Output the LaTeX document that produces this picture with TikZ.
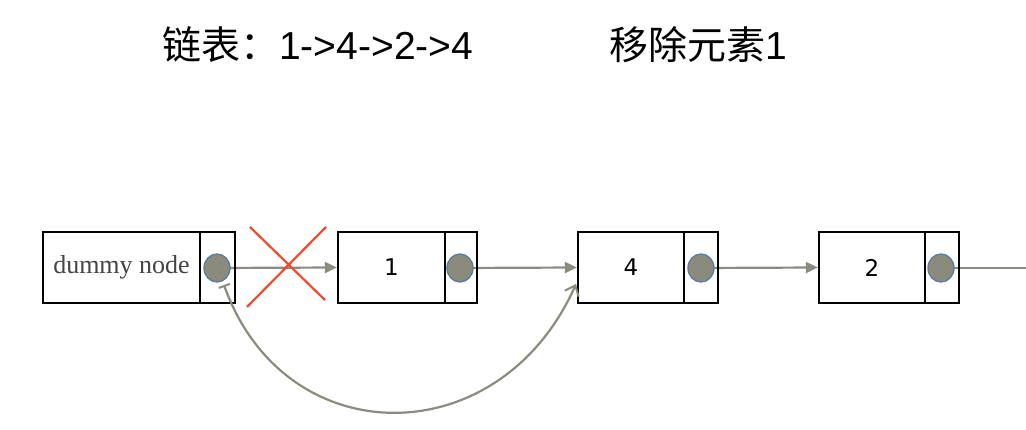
\documentclass[tikz,border=0pt]{standalone}
\usepackage{fontspec}
\setmainfont{Liberation Serif}
\newfontfamily\cjk{Noto Sans CJK SC}
\newfontfamily\latsans{Liberation Sans}
\newfontfamily\dvsans{DejaVu Sans}
\usetikzlibrary{arrows.meta,backgrounds,shapes.geometric}
\definecolor{arrowgray}{HTML}{8A8C80}
\definecolor{dotfill}{HTML}{8A8B7C}
\definecolor{dotedge}{HTML}{5E7E9E}
\definecolor{crossred}{HTML}{F04A2E}
\definecolor{labelgray}{HTML}{444444}
\tikzset{
  databox/.style={draw=black,line width=2.2pt,minimum height=71pt,inner sep=0pt,fill=white},
  ptrbox/.style={draw=black,line width=2.2pt,minimum height=71pt,inner sep=0pt},
  dot/.style={ellipse,draw=dotedge,line width=1.4pt,fill=dotfill,minimum width=26pt,minimum height=28pt,inner sep=0pt},
  link/.style={draw=arrowgray,line width=2.2pt,-{Triangle[length=12pt,width=11pt]}},
  jump/.style={draw=arrowgray,line width=2.2pt,{Bar[width=12pt,line width=2pt]}-{Straight Barb[length=9pt,width=15pt,line width=2pt]}},
  cross/.style={draw=crossred,line width=2.2pt},
  numtxt/.style={font=\dvsans\fontsize{23}{27}\selectfont},
  title/.style={anchor=west,inner sep=0pt,font=\fontsize{39}{46}\selectfont}
}
\begin{document}
\begin{tikzpicture}[x=1pt,y=-1pt]
\useasboundingbox (0,0) rectangle (1026,430);
% titles
\node[title] (t1) at (162,45) {\cjk 链表：\latsans 1->4->2->4};
\node[title] (t2) at (609,45) {\cjk 移除元素\latsans 1};
% dummy node
\node[databox,minimum width=157pt,font=\fontsize{26}{31}\selectfont\color{labelgray}] (d0) at (121.5,267.5) {dummy node};
\node[ptrbox,minimum width=35pt] (p0) at (217.5,267.5) {};
% node 1
\node[databox,minimum width=107pt,numtxt] (d1) at (391.5,267.5) {1};
\node[ptrbox,minimum width=32pt] (p1) at (461,267.5) {};
% node 4
\node[databox,minimum width=106pt,numtxt] (d2) at (631,267.5) {4};
\node[ptrbox,minimum width=34pt] (p2) at (701,267.5) {};
% node 2
\node[databox,minimum width=106pt,numtxt] (d3) at (872,267.5) {2};
\node[ptrbox,minimum width=34pt] (p3) at (942,267.5) {};
% dots
\node[dot] (c0) at (217,268) {};
\node[dot] (c1) at (460,268) {};
\node[dot] (c2) at (701,268) {};
\node[dot] (c3) at (941,268) {};
\coordinate (tail) at (1030,268);
\coordinate (js) at (224,285);
\coordinate (je) at (576,284);
\begin{scope}[on background layer]
\draw[link] (c0.center) -- (d1.west);
\draw[link] (c1.center) -- (d2.west);
\draw[link] (c2.center) -- (d3.west);
\draw[draw=arrowgray,line width=2.2pt] (c3.center) -- (tail);
\end{scope}
\draw[jump] (js) .. controls (285,455) and (500,455) .. (je);
% red cross
\coordinate (x1) at (250,227);
\coordinate (x2) at (325,300);
\coordinate (x3) at (326,227);
\coordinate (x4) at (247,307);
\draw[cross] (x1) -- (x2);
\draw[cross] (x3) -- (x4);
\end{tikzpicture}
\end{document}
